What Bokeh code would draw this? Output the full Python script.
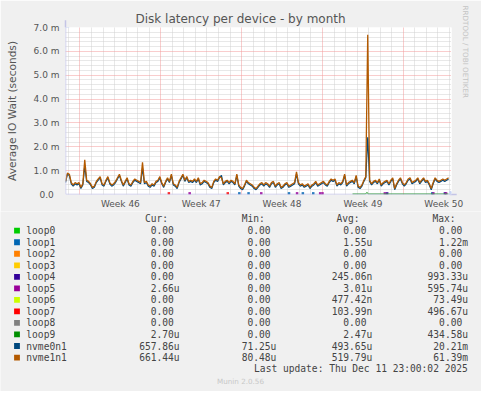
import numpy as np
from bokeh.plotting import figure
from bokeh.layouts import column
from bokeh.core.properties import value
from bokeh.models import FixedTicker, Grid, Arrow, NormalHead, Title, ColumnDataSource
from bokeh.embed import file_html
from bokeh.resources import INLINE

# values in milliseconds, one point every 4 hours, first point at day -1.25
# (day 0 = Monday of week 46)
nvme1n1 = [
    0.55, 0.9, 0.85, 0.5, 0.4, 0.5, 0.45, 0.5, 0.3, 0.45,
    1.45, 0.6, 0.55, 0.45, 0.3, 0.35, 0.55, 0.65, 0.75, 0.45,
    0.4, 0.6, 0.75, 0.5, 0.4, 0.45, 0.55, 0.7, 0.85, 0.6,
    0.4, 0.55, 0.7, 0.45, 0.4, 0.55, 0.65, 0.6, 0.55, 0.5,
    1.35, 0.5, 0.55, 0.4, 0.35, 0.45, 0.4, 0.55, 0.6, 0.75,
    0.5, 0.35, 0.55, 0.7, 0.55, 0.85, 0.45, 0.4, 0.3, 0.55,
    0.7, 0.85, 0.6, 0.75, 0.55, 0.6, 0.55,
    0.65, 0.55, 0.7, 0.45, 0.5, 0.6, 0.55, 0.5, 0.35, 0.3,
    0.55, 0.65, 0.6, 0.75, 0.7, 0.45, 0.55, 0.6, 0.5, 0.6,
    0.55, 0.45, 0.85, 0.4, 0.3, 0.25, 0.4, 0.6, 0.5, 0.45,
    0.4, 0.3, 0.25, 0.35, 0.45, 0.5, 0.4, 0.5, 0.45, 0.35,
    0.5, 0.55, 0.35, 0.45, 0.5, 0.3, 0.35, 0.45, 0.5, 0.35,
    0.4, 0.45, 0.5, 0.95, 0.5, 0.4, 0.45, 0.35, 0.4, 0.45,
    0.3, 0.4, 0.45, 0.55, 0.4, 0.45, 0.5, 0.55,
    0.45, 0.4, 0.55, 0.65, 0.6, 0.65, 0.4, 0.5, 0.45, 0.55,
    0.85, 0.4, 0.5, 0.55, 0.6, 0.5, 0.8, 0.35, 0.3, 0.4,
    0.6, 0.75, 6.7, 0.6, 0.45, 0.55, 0.6, 0.5, 0.65, 0.4,
    0.5, 0.55, 0.6, 0.45, 0.6, 0.7, 0.25, 0.45, 0.6, 0.7,
    0.5, 0.4, 0.5, 0.65, 0.7, 0.5, 0.55, 0.6, 0.7, 0.5,
    0.6, 0.7, 0.55, 0.6, 0.45, 0.25, 0.5, 0.7, 0.6, 0.55,
    0.6, 0.65, 0.6, 0.65, 0.7,
]
nvme0n1 = [
    0.5, 0.85, 0.8, 0.45, 0.35, 0.45, 0.4, 0.45, 0.25, 0.4,
    1.2, 0.55, 0.5, 0.4, 0.25, 0.3, 0.5, 0.6, 0.7, 0.4,
    0.35, 0.55, 0.7, 0.45, 0.35, 0.4, 0.5, 0.65, 0.8, 0.55,
    0.35, 0.5, 0.65, 0.4, 0.35, 0.5, 0.6, 0.55, 0.5, 0.45,
    1.1, 0.45, 0.5, 0.35, 0.3, 0.4, 0.35, 0.5, 0.55, 0.7,
    0.45, 0.3, 0.5, 0.65, 0.5, 0.8, 0.4, 0.35, 0.25, 0.5,
    0.65, 0.8, 0.55, 0.7, 0.5, 0.55, 0.5,
    0.6, 0.5, 0.65, 0.4, 0.45, 0.55, 0.5, 0.45, 0.3, 0.25,
    0.5, 0.6, 0.55, 0.7, 0.8, 0.4, 0.5, 0.55, 0.45, 0.55,
    0.5, 0.4, 0.8, 0.35, 0.25, 0.2, 0.35, 0.55, 0.45, 0.4,
    0.35, 0.25, 0.2, 0.3, 0.4, 0.45, 0.35, 0.45, 0.4, 0.3,
    0.45, 0.5, 0.3, 0.4, 0.45, 0.25, 0.3, 0.4, 0.45, 0.3,
    0.35, 0.4, 0.45, 0.85, 0.45, 0.35, 0.4, 0.3, 0.35, 0.4,
    0.25, 0.35, 0.4, 0.5, 0.35, 0.4, 0.45, 0.5,
    0.4, 0.35, 0.5, 0.6, 0.55, 0.6, 0.35, 0.45, 0.4, 0.5,
    0.8, 0.35, 0.45, 0.5, 0.55, 0.45, 0.75, 0.3, 0.25, 0.35,
    0.55, 0.7, 2.4, 0.55, 0.4, 0.5, 0.55, 0.45, 0.6, 0.35,
    0.45, 0.5, 0.55, 0.4, 0.55, 0.65, 0.2, 0.4, 0.55, 0.65,
    0.45, 0.35, 0.45, 0.6, 0.65, 0.45, 0.5, 0.55, 0.65, 0.45,
    0.55, 0.65, 0.5, 0.55, 0.4, 0.2, 0.45, 0.65, 0.55, 0.5,
    0.55, 0.6, 0.55, 0.6, 0.65,
]

# small blips of the loop devices (day, value in ms)
loop1_days = [13.8, 14.6, 18.1, 19.3, 20.2, 30.5]
loop1_vals = [0.04, 0.04, 0.04, 0.04, 0.04, 0.04]
loop4_days = [26.6, 31.6]
loop4_vals = [0.04, 0.04]
loop5_days = [9.5, 15.7, 18.8, 20.8, 21.0, 26.4, 30.6, 31.7]
loop5_vals = [0.04, 0.04, 0.04, 0.04, 0.04, 0.04, 0.04, 0.04]
loop7_days = [7.7, 12.8]
loop7_vals = [0.04, 0.04]
loop9_days = [23.6, 24.7, 24.85, 25.0, 31.9]
loop9_vals = [0.02, 0.02, 0.08, 0.02, 0.02]

week_labels = ["Week 46", "Week 47", "Week 48", "Week 49", "Week 50"]
y_labels = ["0.0", "1.0 m", "2.0 m", "3.0 m", "4.0 m", "5.0 m", "6.0 m", "7.0 m"]

names = ["loop0", "loop1", "loop2", "loop3", "loop4", "loop5", "loop6", "loop7",
         "loop8", "loop9", "nvme0n1", "nvme1n1"]
colors = ["#00CC00", "#0066B3", "#FF8000", "#FFCC00", "#330099", "#990099",
          "#CCFF00", "#FF0000", "#808080", "#008F00", "#00487D", "#B35A00"]
cur = ["0.00", "0.00", "0.00", "0.00", "0.00", "2.66u", "0.00", "0.00",
       "0.00", "2.70u", "657.86u", "661.44u"]
mins = ["0.00", "0.00", "0.00", "0.00", "0.00", "0.00", "0.00", "0.00",
        "0.00", "0.00", "71.25u", "80.48u"]
avgs = ["0.00", "1.55u", "0.00", "0.00", "245.06n", "3.01u", "477.42n", "103.99n",
        "0.00", "2.47u", "493.65u", "519.79u"]
maxs = ["0.00", "1.22m", "0.00", "0.00", "993.33u", "595.74u", "73.49u", "496.67u",
        "0.00", "434.58u", "20.21m", "61.39m"]

W = 481
H1, H2 = 211, 180
BG = "#F0F0F0"
X0, X1 = -1.25, 32.17
STEP = 1 / 6

x = X0 + np.arange(len(nvme1n1)) * STEP

p = figure(width=W, height=H1, output_backend="svg", toolbar_location=None,
           x_range=(X0, X1), y_range=(0, 7),
           min_border_left=65, min_border_right=28,
           min_border_top=27, min_border_bottom=16)
p.frame_align = False
p.border_fill_color = BG
p.background_fill_color = "white"
p.outline_line_color = None

p.title.text = "Disk latency per device - by month"
p.title.align = "left"
p.title.offset = 70
p.title.standoff = 3
p.title.text_font = "DejaVu Sans"
p.title.text_font_size = "12px"
p.title.text_font_style = "normal"
p.title.text_color = "#555555"

p.add_layout(Title(text="RRDTOOL / TOBI OETIKER", align="left", offset=-22,
                   standoff=19, text_font="DejaVu Sans", text_font_size="7.2px",
                   text_font_style="normal", text_color="#C4C4C4"), "right")

# grids: grey dotted each day / 0.2 m, red dotted each week / 1 m
p.xgrid.ticker = FixedTicker(ticks=[d for d in range(-1, 33) if d % 7 != 0])
p.xgrid.grid_line_color = "#D0D0D0"
p.xgrid.grid_line_dash = "1 1"
p.ygrid.ticker = FixedTicker(ticks=[i / 5 for i in range(1, 35) if i % 5 != 0])
p.ygrid.grid_line_color = "#D0D0D0"
p.ygrid.grid_line_dash = "1 1"
p.add_layout(Grid(dimension=0, ticker=FixedTicker(ticks=[0, 7, 14, 21, 28]),
                  grid_line_color="#F29A9A", grid_line_dash="1 1"))
p.add_layout(Grid(dimension=1, ticker=FixedTicker(ticks=[1, 2, 3, 4, 5, 6, 7]),
                  grid_line_color="#F29A9A", grid_line_dash="1 1"))

# axes
p.xaxis.ticker = FixedTicker(ticks=[3.5, 10.5, 17.5, 24.5, 31.5])
p.xaxis.major_label_overrides = {3.5 + 7 * i: t for i, t in enumerate(week_labels)}
p.yaxis.ticker = FixedTicker(ticks=list(range(8)))
p.yaxis.major_label_overrides = {i: t for i, t in enumerate(y_labels)}
p.yaxis.major_label_overrides[0] = "0.0\u00a0\u00a0"
for ax in (p.xaxis[0], p.yaxis[0]):
    ax.axis_line_color = None
    ax.major_tick_line_color = None
    ax.minor_tick_line_color = None
    ax.major_tick_out = 0
    ax.major_tick_in = 0
    ax.minor_tick_out = 0
    ax.major_label_text_font = "DejaVu Sans"
    ax.major_label_text_font_size = "9px"
    ax.major_label_text_color = "#555555"
p.xaxis.major_label_standoff = 4
p.yaxis.major_label_standoff = 6
p.yaxis.axis_label = "Average IO Wait (seconds)"
p.yaxis.axis_label_text_font = "DejaVu Sans"
p.yaxis.axis_label_text_font_size = "10.6px"
p.yaxis.axis_label_text_font_style = "normal"
p.yaxis.axis_label_text_color = "#555555"
p.yaxis.axis_label_standoff = 13

# loop devices
for d, v, c in [(loop1_days, loop1_vals, colors[1]), (loop4_days, loop4_vals, colors[4]),
                (loop5_days, loop5_vals, colors[5]), (loop7_days, loop7_vals, colors[7])]:
    p.scatter(d, v, marker="square", size=2.5, color=c, line_width=0)
p.line(loop9_days, loop9_vals, color=colors[9], line_width=1)

p.line(x, nvme0n1, color=colors[10], line_width=1.2)
p.line(x, nvme1n1, color=colors[11], line_width=1.3)

# axis arrows
axc = "#C4C4E6"
headc = "#C8D4F4"
p.add_layout(Arrow(x_start=X0, y_start=0, x_end=X0, y_end=7.3, line_color=axc, line_width=1.5,
                   end=NormalHead(size=7, fill_color=headc, line_color=headc)))
p.add_layout(Arrow(x_start=X0, y_start=0, x_end=X1 + 0.45, y_end=0, line_color=axc, line_width=1.5,
                   end=NormalHead(size=7, fill_color=headc, line_color=headc)))

# legend panel, drawn in pixel coordinates
leg = figure(width=W, height=H2, output_backend="svg", toolbar_location=None,
             x_range=(0, W), y_range=(H2, 0), x_axis_location=None, y_axis_location=None,
             min_border=0)
leg.frame_align = False
leg.border_fill_color = BG
leg.background_fill_color = BG
leg.outline_line_color = None
leg.grid.visible = False

MONO = value("DejaVu Sans Mono")
FS = "9.6px"
TXT = "#444444"
row_y = [19.2 + 11.53 * k for k in range(len(names))]

leg.scatter([16.5] * len(names), row_y, marker="square", size=5.8, color=colors, line_width=0)
leg.text([25.8] * len(names), row_y, text=names, text_font=MONO,
         text_font_size=FS, text_color=TXT, text_baseline="middle", text_align="left")

hdr_src = ColumnDataSource(dict(x=[167.5, 264.3, 359.1, 455.0], y=[7.4] * 4,
                                t=["Cur:", "Min:", "Avg:", "Max:"]))
leg.text("x", "y", text="t", source=hdr_src, text_font=MONO, text_font_size=FS,
         text_color=TXT, text_baseline="middle", text_align="right")

for vals, xr in zip([cur, mins, avgs, maxs], [179.1, 275.9, 371.7, 467.5]):
    shown = [v if not v[-1].isdigit() else v + "\u00a0" for v in vals]
    leg.text([xr] * len(vals), row_y, text=shown, text_font=MONO,
             text_font_size=FS, text_color=TXT, text_baseline="middle", text_align="right")

leg.text([467.3], [157.4], text=["Last update: Thu Dec 11 23:00:02 2025"],
         text_font=MONO, text_font_size=FS, text_color=TXT,
         text_baseline="middle", text_align="right")
leg.text([240], [169.6], text=["Munin 2.0.56"], text_font=value("DejaVu Sans"),
         text_font_size="7.2px", text_color="#C8C8C8",
         text_baseline="middle", text_align="center")

layout = column(p, leg, spacing=0)
open("out.html", "w").write(file_html(layout, INLINE))
